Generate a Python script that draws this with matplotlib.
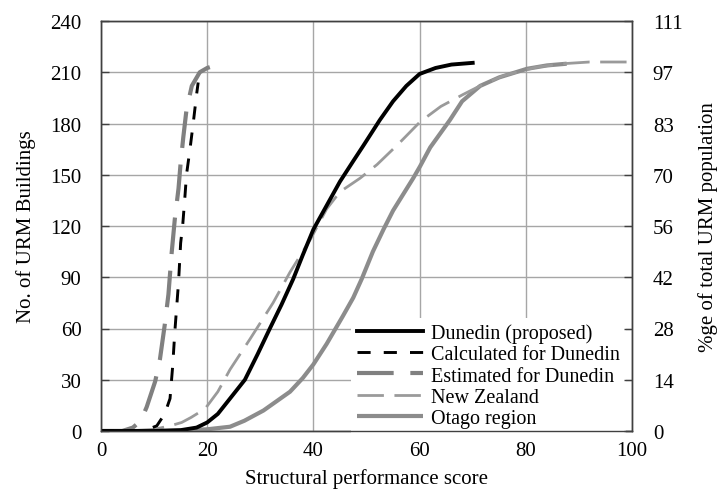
import matplotlib
matplotlib.use("Agg")
import matplotlib.pyplot as plt

plt.rcParams['font.family'] = ['Liberation Serif', 'DejaVu Serif']

# Data
dun_x = [0, 10, 15, 18, 20, 22, 24.3, 27.1, 29.5, 31.8, 34, 36.2, 38, 40, 42.5, 45, 47.5, 49.4, 52.5, 55, 57.5, 60, 63, 66, 70]
dun_y = [0, 0, 0.5, 2, 5, 10, 19, 30, 45, 60, 74, 89, 103, 118, 132, 146, 158, 167, 182, 193, 202, 209, 212.5, 214.5, 215.5]

calc_x = [0, 8, 10.5, 12, 13, 13.5, 13.9, 14.6, 15.0, 15.4, 15.8, 16.1, 16.8, 17.4, 18.0, 18.3]
calc_y = [0, 0, 3, 10, 19, 38, 58, 87, 110, 121, 137, 150, 166, 181, 197, 204]

est_x = [0, 4, 6, 7.5, 8.6, 10.2, 11.1, 12, 12.7, 13.3, 13.9, 14.6, 15.0, 15.5, 16.1, 17.1, 18.6, 20, 21.5]
est_y = [0, 0, 2, 6, 14, 29, 42, 62, 80, 104, 124, 142, 157, 172, 188, 202, 210, 212.5, 214]

nz_x = [0, 5, 10, 13, 15.2, 17, 19.6, 22, 24.3, 28.1, 32.4, 35.6, 39.4, 42.5, 45, 48.8, 52, 56, 60.1, 64, 68.2, 72, 75.8, 82, 87, 92, 100]
nz_y = [0, 0, 1, 3, 5, 8, 13, 23, 36, 54, 75, 93, 112, 130, 140, 148, 156, 168, 181, 190, 197, 203, 208, 213, 215, 216, 216]

otago_x = [0, 10, 15, 20, 24.3, 27, 30.6, 35.6, 38, 40, 42.5, 45.5, 47.5, 49.1, 51.2, 53.2, 55, 58.8, 60.1, 62, 65.7, 68, 71.4, 75, 80.2, 84, 87.7]
otago_y = [0, 0, 0.3, 1, 2.5, 6, 12, 23, 31, 39, 51, 67, 78, 89, 105, 118, 129, 148, 155, 166, 182, 193, 202, 207, 212, 214, 215]

left_ticks = [0, 30, 60, 90, 120, 150, 180, 210, 240]
right_tick_labels = ["0", "14", "28", "42", "56", "70", "83", "97", "111"]
x_ticks = [0, 20, 40, 60, 80, 100]

labels = ["Dunedin (proposed)", "Calculated for Dunedin", "Estimated for Dunedin",
          "New Zealand", "Otago region"]

fig = plt.figure(figsize=(7.21, 5.02), dpi=100)
ax = fig.add_axes([101/721, 70/502, 531/721, 410/502])

FS = 15
grid_c = '#a6a6a6'

ax.plot(otago_x, otago_y, color='#8c8c8c', lw=3.0, solid_capstyle='butt', label=labels[4], zorder=3)
ax.plot(nz_x, nz_y, color='#9a9a9a', lw=2.0, linestyle=(0, (9.5, 3.8)), label=labels[3], zorder=3)
ax.plot(est_x, est_y, color='#808080', lw=3.0, linestyle=(0, (8.8, 4.0)), label=labels[2], zorder=3)
ax.plot(calc_x, calc_y, color='black', lw=2.1, linestyle=(0, (4.5, 4.5)), label=labels[1], zorder=4)
ax.plot(dun_x, dun_y, color='black', lw=2.8, label=labels[0], zorder=5)

ax.set_xlim(0, 100)
ax.set_ylim(0, 240)
ax.set_xticks(x_ticks)
ax.set_yticks(left_ticks)
ax.grid(True, color=grid_c, lw=1)
ax.set_axisbelow(True)

for s in ax.spines.values():
    s.set_color('#404040')
    s.set_linewidth(1)

ax.tick_params(axis='y', direction='in', length=6, width=1, color='#404040', pad=14, labelsize=FS)
ax.tick_params(axis='x', direction='in', length=0, pad=7, labelsize=FS)

ax.set_xlabel("Structural performance score", fontsize=FS, labelpad=6)
ax.set_ylabel("No. of URM Buildings", fontsize=FS, labelpad=10)

ax2 = ax.twinx()
ax2.set_ylim(ax.get_ylim())
ax2.set_yticks(left_ticks)
ax2.set_yticklabels(right_tick_labels)
ax2.tick_params(axis='y', direction='in', length=6, width=1, color='#404040', pad=15, labelsize=FS)
ax2.set_ylabel("%ge of total URM population", fontsize=FS, labelpad=11)
for s in ax2.spines.values():
    s.set_color('#404040')
    s.set_linewidth(1)

h, l = ax.get_legend_handles_labels()
order = [4, 3, 2, 1, 0]
leg = ax.legend([h[i] for i in order], [l[i] for i in order],
                loc='center left', bbox_to_anchor=(0.47, 0.135),
                fontsize=14.5, frameon=True, fancybox=False, framealpha=1,
                facecolor='white', edgecolor='none', borderpad=0.3,
                labelspacing=0.1, handlelength=3.3, handletextpad=0.4,
                borderaxespad=0)
leg.set_zorder(10)

fig.savefig("out.png", dpi=100)
